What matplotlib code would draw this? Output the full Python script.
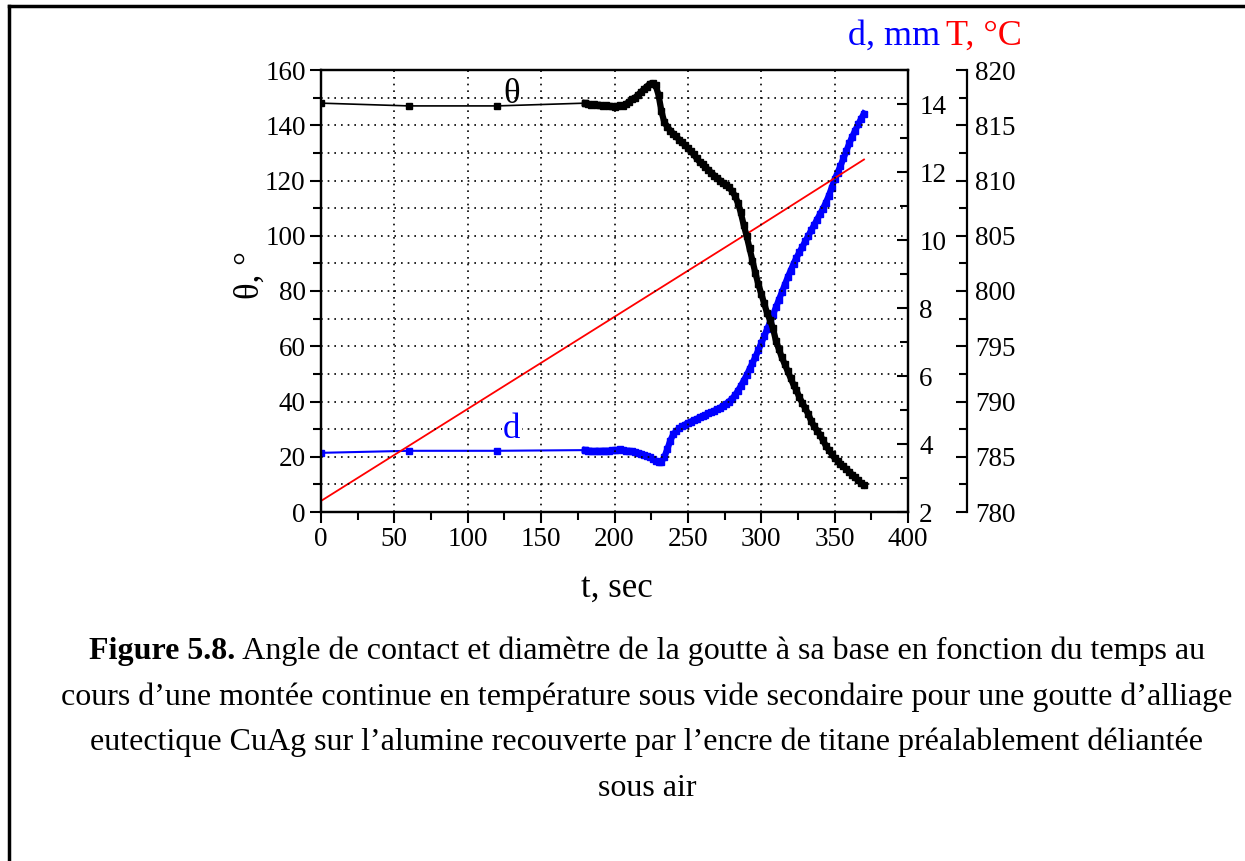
import numpy as np
import matplotlib
matplotlib.use("Agg")
import matplotlib.pyplot as plt
from matplotlib.lines import Line2D
from matplotlib.ticker import MultipleLocator

plt.rcParams['font.family'] = ['Liberation Serif', 'DejaVu Serif']

# sparse points at start of run
t_start = [0, 60, 120]
theta_start = [148.0, 147.0, 147.0]
d_start = [3.74, 3.80, 3.80]

# dense acquisition, every 2 s from 180 to 370 s
t_dense = list(range(180, 371, 2))
theta_dense = [
    148.0, 147.8, 147.5, 147.6, 147.2, 147.4, 147.0, 147.3, 147.0, 146.8,
    146.5, 147.0, 147.2, 147.0, 147.8, 148.5, 149.5, 150.0, 151.0, 152.0,
    153.0, 154.0, 155.0, 155.3, 154.5, 151.0, 145.0, 141.0, 139.5, 138.0,
    137.0, 136.0, 134.8, 133.8, 132.8, 131.8, 130.5, 129.5, 128.0, 126.8,
    125.8, 124.8, 123.8, 122.8, 121.8, 120.8, 120.0, 119.2, 118.5, 117.5,
    116.3, 114.5, 112.0, 108.5, 104.0, 100.0, 95.5, 91.0, 86.5, 82.5,
    79.0, 75.5, 72.0, 69.5, 66.5, 62.0, 59.0, 56.0, 53.5, 51.0,
    48.5, 46.0, 44.0, 41.5, 39.5, 37.5, 35.5, 33.0, 31.0, 29.5,
    28.0, 26.0, 24.0, 22.5, 21.0, 19.5, 18.5, 17.5, 16.5, 15.5,
    14.5, 13.5, 12.5, 11.5, 10.5, 9.8]
d_dense = [
    3.82, 3.80, 3.80, 3.78, 3.80, 3.79, 3.80, 3.80, 3.80, 3.81,
    3.82, 3.82, 3.84, 3.82, 3.80, 3.80, 3.78, 3.76, 3.74, 3.72,
    3.68, 3.65, 3.62, 3.56, 3.50, 3.46, 3.48, 3.62, 3.85, 4.10,
    4.28, 4.38, 4.46, 4.52, 4.57, 4.62, 4.66, 4.70, 4.74, 4.78,
    4.82, 4.86, 4.90, 4.94, 4.98, 5.02, 5.07, 5.12, 5.18, 5.25,
    5.33, 5.43, 5.56, 5.70, 5.86, 6.02, 6.20, 6.38, 6.56, 6.76,
    6.96, 7.17, 7.38, 7.58, 7.80, 8.02, 8.24, 8.46, 8.68, 8.90,
    9.10, 9.30, 9.48, 9.64, 9.80, 9.96, 10.12, 10.28, 10.44, 10.60,
    10.76, 10.92, 11.10, 11.30, 11.54, 11.78, 11.98, 12.18, 12.40, 12.62,
    12.84, 13.04, 13.22, 13.40, 13.56, 13.72]

# temperature ramp
t_T = [0, 60, 120, 180, 240, 300, 370]
T_vals = [781.0, 786.0, 791.0, 796.0, 801.0, 806.0, 811.9]

t_all = t_start + t_dense
theta_all = theta_start + theta_dense
d_all = d_start + d_dense
n0 = len(t_start)

W, H = 1245, 861
fig = plt.figure(figsize=(W / 100, H / 100), dpi=100)

def fx(px):
    return px / W

def fy(py):
    return 1 - py / H

ax = fig.add_axes([fx(321), fy(512), fx(908) - fx(321), fy(70) - fy(512)])
ax_d = ax.twinx()
ax_T = ax.twinx()

tick_fs = 19.5
for a in (ax, ax_d, ax_T):
    for s in a.spines.values():
        s.set_linewidth(1.6)

# grid
ax.set_xlim(0, 400)
ax.set_ylim(0, 160)
ax.xaxis.set_major_locator(MultipleLocator(50))
ax.xaxis.set_minor_locator(MultipleLocator(25))
ax.yaxis.set_major_locator(MultipleLocator(20))
ax.yaxis.set_minor_locator(MultipleLocator(10))
ax.grid(True, which='major', axis='x', color='black', linestyle=(0, (1, 3)), linewidth=1.2)
ax.grid(True, which='both', axis='y', color='black', linestyle=(0, (1, 3)), linewidth=1.2)
ax.tick_params(axis='both', which='major', direction='out', length=8, width=1.5, labelsize=tick_fs, pad=3)
ax.tick_params(axis='both', which='minor', direction='out', length=6, width=1.5)
ax.tick_params(top=False, right=False, which='both')

# T axis, spine offset 59 px to the right
ax_T.set_ylim(780, 820)
ax_T.spines['right'].set_position(('outward', 59 * 72 / 100))
for k in ('left', 'top', 'bottom'):
    ax_T.spines[k].set_visible(False)
ax_T.yaxis.set_major_locator(MultipleLocator(5))
ax_T.yaxis.set_minor_locator(MultipleLocator(2.5))
ax_T.tick_params(axis='y', which='major', direction='in', length=8, width=1.5, labelsize=tick_fs, pad=6)
ax_T.tick_params(axis='y', which='minor', direction='in', length=6, width=1.5)
ax_T.plot(t_T, T_vals, color='red', linewidth=1.3)

# d axis
ax_d.set_ylim(2, 15)
ax_d.yaxis.set_major_locator(MultipleLocator(2))
ax_d.yaxis.set_minor_locator(MultipleLocator(1))
ax_d.tick_params(axis='y', which='major', direction='in', length=8, width=1.5, labelsize=tick_fs, pad=8)
ax_d.tick_params(axis='y', which='minor', direction='in', length=6, width=1.5)
ax_d.plot(t_all[:n0 + 1], d_all[:n0 + 1], color='blue', linewidth=1.5, marker='s', markersize=4)
ax_d.plot(t_dense, d_dense, color='blue', linewidth=4.5, marker='s', markersize=5)

ax.set_zorder(ax_T.get_zorder() + 2)
ax.patch.set_visible(False)
ax.plot(t_all[:n0 + 1], theta_all[:n0 + 1], color='black', linewidth=1.2, marker='s', markersize=4)
ax.plot(t_dense, theta_dense, color='black', linewidth=4.5, marker='s', markersize=5)

ax.text(130, 151, 'θ', fontsize=25, color='black', ha='center', va='center')
ax.text(130, 30, 'd', fontsize=25, color='blue', ha='center', va='center',
        bbox=dict(facecolor='white', edgecolor='none', pad=1))

fig.text(fx(617), fy(588), 't, sec', fontsize=25, ha='center', va='center')
fig.text(fx(250), fy(275), 'θ, °', fontsize=25, ha='center', va='center', rotation=90)
fig.text(fx(940), fy(36), 'd, mm', fontsize=26, color='blue', ha='right', va='center')
fig.text(fx(946), fy(36), 'T, °C', fontsize=26, color='red', ha='left', va='center')

# caption
cap_fs = 23
cx = fx(647)
line1_bold = 'Figure 5.8.'
line1_rest = ' Angle de contact et diamètre de la goutte à sa base en fonction du temps au'
lines = [
    'cours d’une montée continue en température sous vide secondaire pour une goutte d’alliage',
    'eutectique CuAg sur l’alumine recouverte par l’encre de titane préalablement déliantée',
    'sous air',
]
fig.canvas.draw()
r = fig.canvas.get_renderer()
tb = fig.text(0, fy(651), line1_bold, fontsize=cap_fs, fontweight='bold', va='center')
tr = fig.text(0, fy(651), line1_rest, fontsize=cap_fs, va='center')
wb = tb.get_window_extent(r).width
wr = tr.get_window_extent(r).width
x0 = 647 - (wb + wr) / 2
tb.set_x(fx(x0))
tr.set_x(fx(x0 + wb))
for i, s in enumerate(lines):
    fig.text(cx, fy(697 + 45.5 * i), s, fontsize=cap_fs, ha='center', va='center')

# page frame (top and left edges)
fig.add_artist(Line2D([fx(9), 1.0], [fy(6), fy(6)], color='black', linewidth=2.5))
fig.add_artist(Line2D([fx(9), fx(9)], [fy(6), 0.0], color='black', linewidth=2.5))

fig.savefig('out.png', dpi=100)
